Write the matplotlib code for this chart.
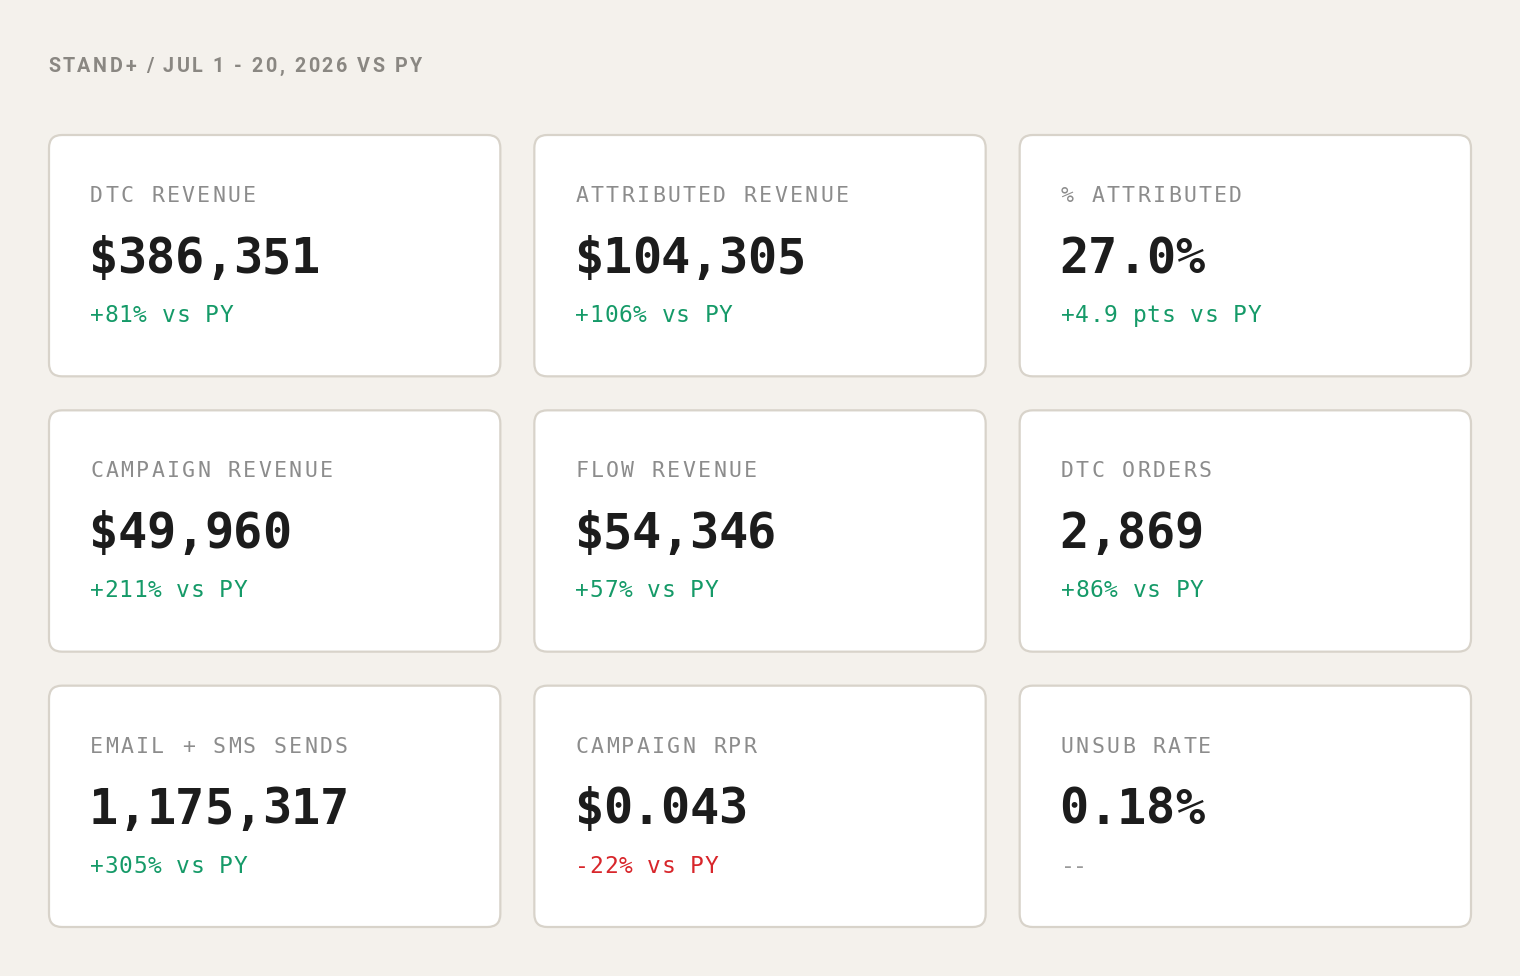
import matplotlib
matplotlib.use("Agg")
import matplotlib.pyplot as plt
from matplotlib.patches import FancyBboxPatch
from matplotlib.font_manager import FontProperties

# ---- data ----
title = "STAND+ / JUL 1 - 20, 2026 VS PY"
labels = ["DTC REVENUE", "ATTRIBUTED REVENUE", "% ATTRIBUTED",
          "CAMPAIGN REVENUE", "FLOW REVENUE", "DTC ORDERS",
          "EMAIL + SMS SENDS", "CAMPAIGN RPR", "UNSUB RATE"]
values = ["$386,351", "$104,305", "27.0%",
          "$49,960", "$54,346", "2,869",
          "1,175,317", "$0.043", "0.18%"]
deltas = ["+81% vs PY", "+106% vs PY", "+4.9 pts vs PY",
          "+211% vs PY", "+57% vs PY", "+86% vs PY",
          "+305% vs PY", "-22% vs PY", "--"]
directions = ["up", "up", "up", "up", "up", "up", "up", "down", "none"]

# ---- style ----
BG = "#f4f1ec"
CARD = "#ffffff"
BORDER = "#d8d3ca"
LABEL_C = "#8c8c8c"
VALUE_C = "#1c1c1c"
UP_C = "#159a68"
DOWN_C = "#d8262b"
NONE_C = "#9a9a9a"
TITLE_C = "#8a8782"
MONO = "DejaVu Sans Mono"

W, H = 1520, 976
fig = plt.figure(figsize=(W / 100, H / 100), dpi=100)
fig.patch.set_facecolor(BG)
ax = fig.add_axes([0, 0, 1, 1])
ax.set_xlim(0, W)
ax.set_ylim(H, 0)
ax.axis("off")
renderer = fig.canvas.get_renderer()


def text_w(s, prop):
    if not s:
        return 0.0
    w1 = renderer.get_text_width_height_descent(s + "X", prop, ismath=False)[0]
    w0 = renderer.get_text_width_height_descent("X", prop, ismath=False)[0]
    return w1 - w0


def tracked(x, y, s, prop, color, tracking):
    for i, c in enumerate(s):
        if c == " ":
            continue
        xi = x + text_w(s[:i], prop) + i * tracking
        ax.text(xi, y, c, fontproperties=prop, color=color,
                ha="left", va="baseline")


# title
title_prop = FontProperties(family="Roboto", weight="bold", size=14.2)
tracked(48, 72, title, title_prop, TITLE_C, 2.55)

label_prop = FontProperties(family=MONO, size=15.5)
value_prop = FontProperties(family=MONO, weight="bold", size=35)
delta_prop = FontProperties(family=MONO, size=16.5)

left, right, top, bottom, gap = 49, 1471, 135, 927, 34
cw = (right - left - 2 * gap) / 3
ch = (bottom - top - 2 * gap) / 3

for k in range(9):
    r, c = divmod(k, 3)
    x0 = left + c * (cw + gap)
    y0 = top + r * (ch + gap)
    card = FancyBboxPatch((x0, y0), cw, ch,
                          boxstyle="round,pad=0,rounding_size=13",
                          facecolor=CARD, edgecolor=BORDER, linewidth=1.6)
    ax.add_patch(card)
    tx = x0 + 41
    tracked(tx, y0 + 67, labels[k], label_prop, LABEL_C, 2.3)
    tracked(tx - 1.5, y0 + 138, values[k], value_prop, VALUE_C, -0.35)
    col = {"up": UP_C, "down": DOWN_C, "none": NONE_C}[directions[k]]
    trk = 0.6 if directions[k] != "none" else -1.5
    tracked(tx, y0 + 187, deltas[k], delta_prop, col, trk)

fig.savefig("out.png", dpi=100, facecolor=BG)
